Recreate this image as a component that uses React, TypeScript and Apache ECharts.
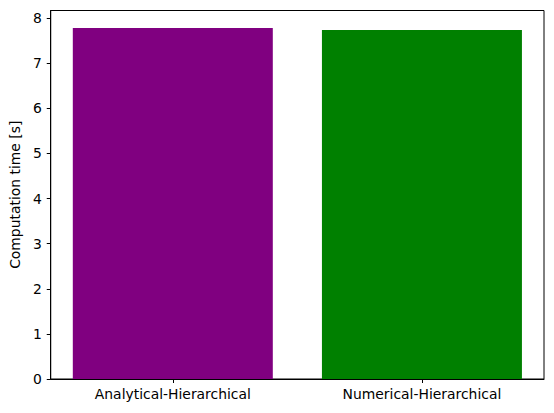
import React, { useEffect, useRef } from "react";
import * as echarts from "echarts";

const categories = ["Analytical-Hierarchical", "Numerical-Hierarchical"];
const times = [7.78, 7.74];
const barColors = ["#800080", "#008000"];
const yTicks = [0, 1, 2, 3, 4, 5, 6, 7, 8];
const yLabel = "Computation time [s]";

export default function App() {
  const ref = useRef<HTMLDivElement>(null);
  useEffect(() => {
    if (!ref.current) return;
    const chart = echarts.init(ref.current, null, { renderer: "svg" });
    const font = "DejaVu Sans";
    const positions = categories.map((_, i) => i);
    chart.setOption({
      animation: false,
      backgroundColor: "#ffffff",
      textStyle: { fontFamily: font },
      grid: {
        left: 48.3,
        right: 10,
        top: 10.5,
        bottom: 34,
        show: true,
        borderColor: "#000",
        borderWidth: 1,
        backgroundColor: "transparent",
      },
      xAxis: {
        type: "value",
        min: -0.49,
        max: 1.49,
        position: "bottom",
        axisLine: { show: true, onZero: false, lineStyle: { color: "#000", width: 1 } },
        axisTick: { show: true, length: 4, customValues: positions, lineStyle: { color: "#000" } },
        axisLabel: {
          color: "#000",
          fontSize: 13.9,
          fontFamily: font,
          margin: 8,
          customValues: positions,
          formatter: (v: number) => categories[Math.round(v)] ?? "",
        },
        splitLine: { show: false },
      },
      yAxis: {
        type: "value",
        min: 0,
        max: 8.17,
        interval: 1,
        position: "left",
        name: yLabel,
        nameLocation: "middle",
        nameGap: 27,
        nameTextStyle: { color: "#000", fontSize: 13.9, fontFamily: font },
        axisLine: { show: true, onZero: false, lineStyle: { color: "#000", width: 1 } },
        axisTick: { show: true, length: 4, customValues: yTicks, lineStyle: { color: "#000" } },
        axisLabel: {
          color: "#000",
          fontSize: 13.9,
          fontFamily: font,
          margin: 9,
          customValues: yTicks,
          formatter: (v: number) => String(v),
        },
        splitLine: { show: false },
      },
      series: [
        {
          type: "bar",
          data: times.map((v, i) => ({ value: [positions[i], v], itemStyle: { color: barColors[i] } })),
          barWidth: 200,
        },
      ],
    });
    return () => chart.dispose();
  }, []);
  return (
    <div
      ref={ref}
      style={{ position: "absolute", left: 0, top: 0, width: 554, height: 413 }}
    />
  );
}
